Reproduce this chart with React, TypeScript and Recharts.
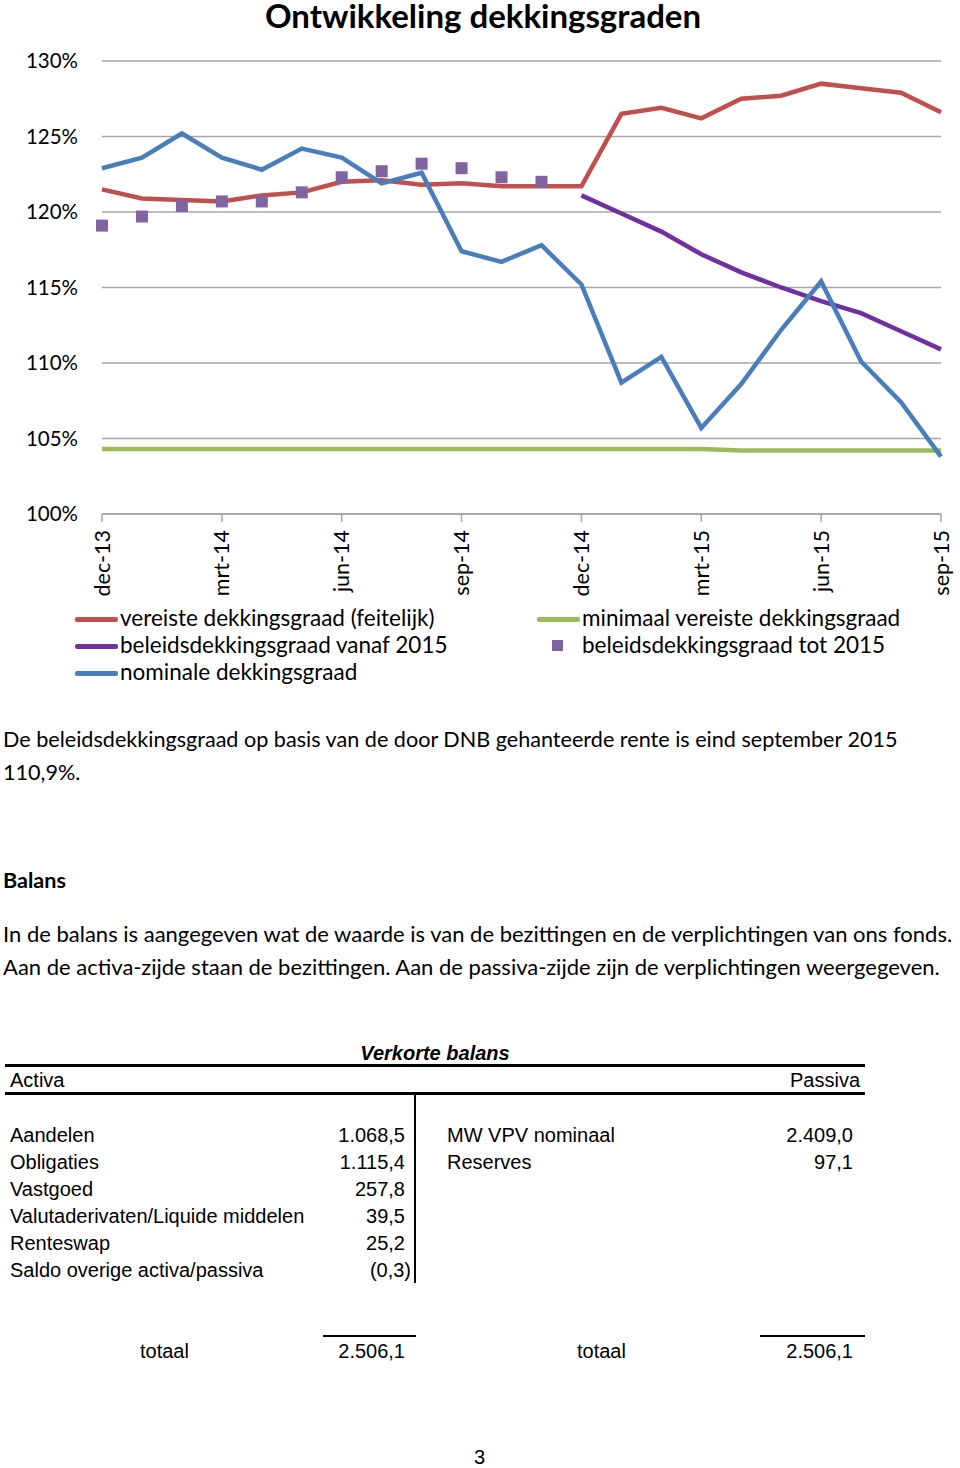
import React from 'react';
import { LineChart, Line, XAxis, YAxis, CartesianGrid } from 'recharts';

const months = ['dec-13','jan-14','feb-14','mrt-14','apr-14','mei-14','jun-14','jul-14','aug-14','sep-14','okt-14','nov-14','dec-14','jan-15','feb-15','mrt-15','apr-15','mei-15','jun-15','jul-15','aug-15','sep-15'];
const vereiste = [121.5,120.9,120.8,120.7,121.1,121.3,122.0,122.1,121.8,121.9,121.7,121.7,121.7,126.5,126.9,126.2,127.5,127.7,128.5,128.2,127.9,126.6];
const minimaal = [104.3,104.3,104.3,104.3,104.3,104.3,104.3,104.3,104.3,104.3,104.3,104.3,104.3,104.3,104.3,104.3,104.2,104.2,104.2,104.2,104.2,104.2];
const nominale = [122.9,123.6,125.2,123.6,122.8,124.2,123.6,121.9,122.6,117.4,116.7,117.8,115.2,108.7,110.4,105.7,108.6,112.2,115.4,110.1,107.4,103.8];
const beleidsVanaf = [null,null,null,null,null,null,null,null,null,null,null,null,121.1,119.9,118.7,117.2,116.0,115.0,114.1,113.3,112.1,110.9];
const beleidsTot = [119.1,119.7,120.4,120.7,120.7,121.3,122.3,122.7,123.2,122.9,122.3,122.0,null,null,null,null,null,null,null,null,null,null];
const yTicks = [100,105,110,115,120,125,130];

const seriesNames = {
  vereiste: 'vereiste dekkingsgraad (feitelijk)',
  vanaf: 'beleidsdekkingsgraad vanaf 2015',
  nominale: 'nominale dekkingsgraad',
  minimaal: 'minimaal vereiste dekkingsgraad',
  tot: 'beleidsdekkingsgraad tot 2015',
};

const activaLabels = ['Aandelen','Obligaties','Vastgoed','Valutaderivaten/Liquide middelen','Renteswap','Saldo overige activa/passiva'];
const activaValues = ['1.068,5','1.115,4','257,8','39,5','25,2','(0,3)'];
const passivaLabels = ['MW VPV nominaal','Reserves'];
const passivaValues = ['2.409,0','97,1'];
const totaalActiva = '2.506,1';
const totaalPassiva = '2.506,1';

const data = months.map((m, i) => ({
  month: m,
  vereiste: vereiste[i],
  minimaal: minimaal[i],
  nominale: nominale[i],
  vanaf: beleidsVanaf[i],
  tot: beleidsTot[i],
}));

const RED = '#C0504D';
const BLUE = '#4A7EBB';
const GREEN = '#9BBB59';
const PURPLE = '#7030A0';
const SQ = '#8064A2';
const GRID = '#A6A6A6';
const CAL = "Lato, 'Open Sans', sans-serif";
const ARIAL = "'Liberation Sans Narrow', 'Liberation Sans', Arial, sans-serif";

const XTick = (props: any) => {
  const { x, payload } = props;
  const tx = x + 7.5;
  const ty = 530;
  return (
    <text x={tx} y={ty} textAnchor="end" fontSize={21.5} fontFamily={CAL} fill="#000" transform={`rotate(-90, ${tx}, ${ty})`}>
      {payload.value}
    </text>
  );
};

const SquareDot = (props: any) => {
  const { cx, cy, index } = props;
  if (cx == null || cy == null || props.value == null) return <g key={`sq-${index}`} />;
  return <rect key={`sq-${index}`} x={cx - 6} y={cy - 6} width={12} height={12} fill={SQ} />;
};

const T = ({ left, right, top, size = 20, family = CAL, bold = false, italic = false, children }: any) => (
  <div style={{ position: 'absolute', left, right, top, fontSize: size, fontFamily: family, fontWeight: bold ? 700 : 400, fontStyle: italic ? 'italic' : 'normal', lineHeight: 1, whiteSpace: 'nowrap', color: '#000' }}>
    {children}
  </div>
);

const LegendLine = ({ x, y, color }: any) => (
  <div style={{ position: 'absolute', left: x, top: y - 2, width: 43, height: 4.5, background: color, borderRadius: 2 }} />
);

export default function App() {
  const rowY = [1125, 1152, 1179, 1206, 1233, 1260];
  return (
    <div style={{ position: 'absolute', left: 0, top: 0, width: 960, height: 1468, background: '#fff', overflow: 'hidden' }}>
      <div style={{ position: 'absolute', left: 0, top: 0, width: 966, textAlign: 'center', fontSize: 33, fontFamily: CAL, fontWeight: 700, lineHeight: '30px', whiteSpace: 'nowrap', color: '#000' }}>
        Ontwikkeling dekkingsgraden
      </div>
      <div style={{ position: 'absolute', left: 0, top: 0 }}>
        <LineChart width={960} height={600} data={data} margin={{ top: 61, right: 19, left: 0, bottom: 0 }}>
          <CartesianGrid vertical={false} stroke={GRID} strokeWidth={1.5} />
          <XAxis dataKey="month" scale="point" padding={{ left: 0, right: 0 }} interval={2} height={86}
            axisLine={{ stroke: GRID, strokeWidth: 1.5 }} tickLine={{ stroke: GRID, strokeWidth: 1.5 }} tickSize={8}
            tick={<XTick />} />
          <YAxis domain={[100, 130]} ticks={yTicks} width={102} axisLine={false} tickLine={false} tickMargin={18}
            tickFormatter={(v: number) => `${v}%`} tick={{ fontSize: 20.5, fontFamily: CAL, fill: '#000' }} />
          <Line dataKey="minimaal" stroke={GREEN} strokeWidth={4.5} dot={false} isAnimationActive={false} />
          <Line dataKey="vereiste" stroke={RED} strokeWidth={4.5} dot={false} isAnimationActive={false} />
          <Line dataKey="vanaf" stroke={PURPLE} strokeWidth={4.5} dot={false} connectNulls={false} isAnimationActive={false} />
          <Line dataKey="tot" stroke="none" dot={<SquareDot />} activeDot={false} isAnimationActive={false} />
          <Line dataKey="nominale" stroke={BLUE} strokeWidth={4.5} dot={false} isAnimationActive={false} />
        </LineChart>
      </div>

      <LegendLine x={75} y={619} color={RED} />
      <T left={120} top={607} size={22.5}>{seriesNames.vereiste}</T>
      <LegendLine x={75} y={646} color={PURPLE} />
      <T left={120} top={634} size={22.5}>{seriesNames.vanaf}</T>
      <LegendLine x={75} y={673} color={BLUE} />
      <T left={120} top={661} size={22.5}>{seriesNames.nominale}</T>
      <LegendLine x={537} y={619} color={GREEN} />
      <T left={582} top={607} size={22.5}>{seriesNames.minimaal}</T>
      <div style={{ position: 'absolute', left: 552, top: 640, width: 11, height: 11, background: SQ }} />
      <T left={582} top={634} size={22.5}>{seriesNames.tot}</T>

      <T left={3} top={729} size={21.6}>De beleidsdekkingsgraad op basis van de door DNB gehanteerde rente is eind september 2015</T>
      <T left={3} top={762} size={21.6}>110,9%.</T>
      <T left={3} top={870} size={21.6} bold>Balans</T>
      <T left={3} top={923} size={22}>In de balans is aangegeven wat de waarde is van de bezittingen en de verplichtingen van ons fonds.</T>
      <T left={3} top={956} size={22}>Aan de activa-zijde staan de bezittingen. Aan de passiva-zijde zijn de verplichtingen weergegeven.</T>

      <T left={0} top={1043} size={20} family={ARIAL} bold italic>
        <div style={{ width: 870, textAlign: 'center' }}>Verkorte balans</div>
      </T>
      <div style={{ position: 'absolute', left: 5, top: 1064, width: 860, height: 3, background: '#000' }} />
      <T left={10} top={1070} size={20} family={ARIAL}>Activa</T>
      <T right={960 - 860} top={1070} size={20} family={ARIAL}>Passiva</T>
      <div style={{ position: 'absolute', left: 5, top: 1092, width: 860, height: 2.5, background: '#000' }} />
      <div style={{ position: 'absolute', left: 414, top: 1094, width: 2, height: 189, background: '#000' }} />

      {activaLabels.map((l, i) => (
        <T key={l} left={10} top={rowY[i]} size={20} family={ARIAL}>{l}</T>
      ))}
      {activaValues.map((v, i) => (
        <T key={v + i} right={960 - (v.startsWith('(') ? 411 : 405)} top={rowY[i]} size={20} family={ARIAL}>{v}</T>
      ))}
      {passivaLabels.map((l, i) => (
        <T key={l} left={447} top={rowY[i]} size={20} family={ARIAL}>{l}</T>
      ))}
      {passivaValues.map((v, i) => (
        <T key={v + i} right={960 - 853} top={rowY[i]} size={20} family={ARIAL}>{v}</T>
      ))}

      <div style={{ position: 'absolute', left: 323, top: 1335, width: 93, height: 2, background: '#000' }} />
      <div style={{ position: 'absolute', left: 760, top: 1335, width: 105, height: 2, background: '#000' }} />
      <T left={140} top={1341} size={20} family={ARIAL}>totaal</T>
      <T right={960 - 405} top={1341} size={20} family={ARIAL}>{totaalActiva}</T>
      <T left={577} top={1341} size={20} family={ARIAL}>totaal</T>
      <T right={960 - 853} top={1341} size={20} family={ARIAL}>{totaalPassiva}</T>

      <T left={474} top={1447} size={20} family={ARIAL}>3</T>
    </div>
  );
}
